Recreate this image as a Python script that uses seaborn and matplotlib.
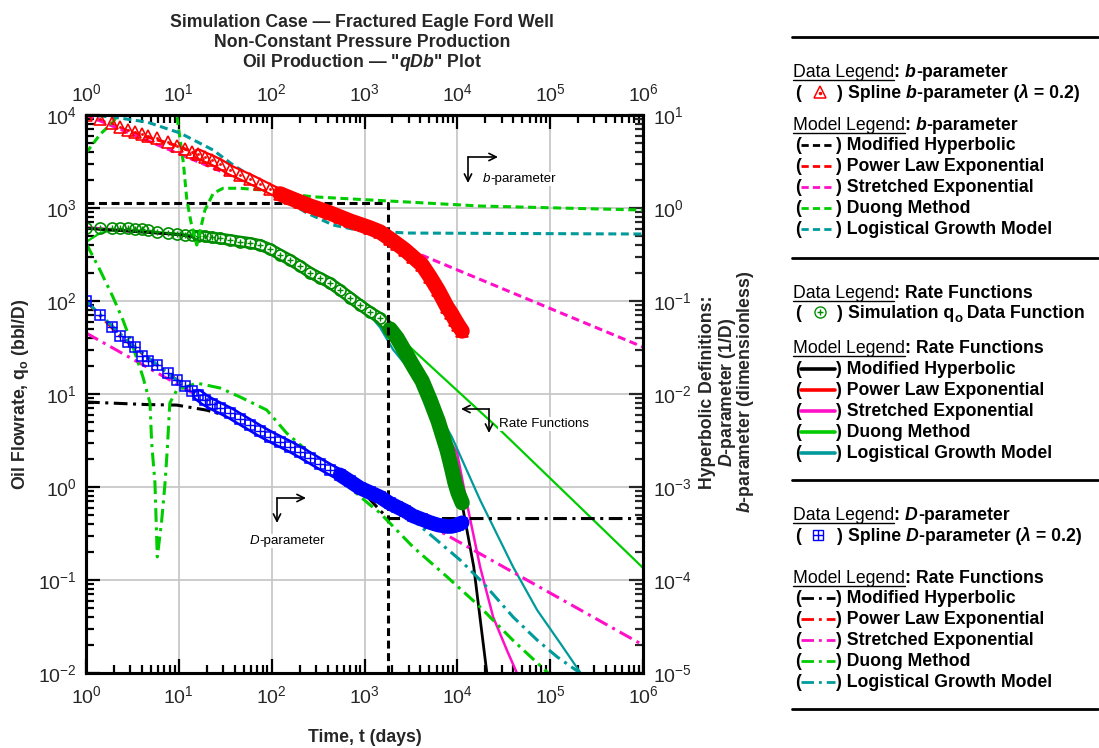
import numpy as np
import pandas as pd
import matplotlib
matplotlib.use("Agg")
import matplotlib.pyplot as plt
import matplotlib.patches as mpatches
import seaborn as sns
from matplotlib.font_manager import FontProperties
from matplotlib.lines import Line2D
from matplotlib.ticker import LogLocator, NullFormatter, NullLocator, FuncFormatter

W, H = 1099, 748

# ---------------- spline data (simulation) ----------------
t_data = [1, 1.42, 1.91, 2.32, 2.84, 3.37, 3.98, 4.69, 5.78, 7.71, 9.48, 11.7, 13.8, 16.2,
          19.1, 22.8, 27.8, 35.6, 45.6, 58.5, 75, 96.2, 123, 158, 202, 259, 333, 426, 546,
          700, 897, 1148, 1472, 1888, 2244, 2742, 3342, 4178, 5093, 6209, 7762, 8570, 9462,
          10210, 11270]
b_spline = [10.0, 8.95, 8.15, 7.48, 6.90, 6.52, 6.19, 5.98, 5.61, 5.15, 4.68, 4.28, 4.03, 3.81,
            3.53, 3.28, 2.97, 2.56, 2.29, 2.05, 1.81, 1.60, 1.42, 1.28, 1.16, 1.05, 0.964, 0.883,
            0.800, 0.724, 0.665, 0.610, 0.552, 0.465, 0.410, 0.353, 0.297, 0.244, 0.181, 0.131,
            0.0861, 0.0743, 0.0625, 0.0552, 0.0475]
q_data = [605, 605, 614, 614, 608, 600, 590, 578, 556, 535, 525, 518, 511, 504,
          494, 482, 470, 453, 436, 421, 400, 362, 316, 276, 238, 202, 177, 156, 131,
          109, 90.6, 76.2, 65.6, 50.0, 40.0, 28.3, 20.0, 13.8, 8.61, 5.13, 2.50, 1.68, 1.10,
          0.861, 0.678]
D_spline = [0.100, 0.0707, 0.0525, 0.0420, 0.0362, 0.0320, 0.0256, 0.0226, 0.0205, 0.0168,
            0.0142, 0.0122, 0.0108, 0.00975, 0.00861, 0.00780, 0.00706, 0.00625, 0.00538,
            0.00465, 0.00400, 0.00349, 0.00308, 0.00272, 0.00238, 0.00205, 0.00177, 0.00154,
            0.00135, 0.00115, 0.000975, 0.000873, 0.000780, 0.000665, 0.000610, 0.000552,
            0.000488, 0.000448, 0.000415, 0.000390, 0.000376, 0.000376, 0.000385, 0.000395,
            0.000413]

# ---------------- b-parameter models ----------------
t_mh_b = [1, 1796, 1796, 1e6]
mh_b = [1.13, 1.13, 1e-8, 1e-8]
t_ple_b = [1, 3, 10, 30, 100, 300, 1000, 2000, 4000, 7000, 11270]
ple_b = [10, 6.6, 4.6, 2.9, 1.65, 1.0, 0.63, 0.46, 0.25, 0.11, 0.048]
t_se_b = [1, 3342, 1e6]
se_b = [10.0, 0.34, 0.032]
t_dg_b = [1, 1.42, 1.91, 2.3, 3, 5, 7, 8.5, 9.5, 11.2, 12.2, 13.8, 15.6, 19.1, 23.5, 30,
          45.6, 81, 133, 279, 1148, 17700, 1e6]
dg_b = [3.9, 6.2, 8.2, 10.5, 18, 40, 40, 18, 10, 3.03, 1.22, 0.63, 0.40, 0.95, 1.44, 1.63,
        1.63, 1.56, 1.44, 1.32, 1.22, 1.05, 0.95]
t_lgm_b = [1, 1.95, 4.54, 10.3, 23.4, 38.4, 69.7, 123, 240, 459, 831, 2880, 1e6]
lgm_b = [10.0, 9.5, 8.4, 6.4, 4.2, 2.9, 2.0, 1.31, 0.883, 0.656, 0.58, 0.538, 0.525]

# ---------------- rate models ----------------
t_mh_q = [1, 10, 100, 1000, 1796, 5000, 11180, 15000, 20800, 23000]
mh_q = [605, 518, 350, 85, 52, 8.8, 0.68, 0.14, 0.01, 0.004]
t_ple_q = [1, 10, 100, 1000, 3000, 6000, 11180]
ple_q = [605, 520, 360, 88, 23, 5.3, 0.68]
t_se_q = [1, 10, 100, 1000, 3342, 6000, 9950, 12650, 17600, 24300, 34100, 43800]
se_q = [620, 520, 360, 88, 20, 5.3, 2.32, 0.673, 0.138, 0.040, 0.0177, 0.010]
t_dg_q = [1, 1.42, 1.95, 5, 20, 100, 500, 1472, 3342, 28900, 1e6]
dg_q = [431, 538, 580, 560, 494, 350, 140, 65, 29.7, 4.1, 0.135]
t_lgm_q = [1, 10, 100, 500, 1000, 1472, 2033, 4316, 8730, 17600, 39900, 72400, 128000,
           210000, 260000]
lgm_q = [605, 520, 360, 140, 82, 52, 30, 12.0, 3.45, 0.724, 0.138, 0.0475, 0.021, 0.0102,
         0.0075]

# ---------------- D-parameter models ----------------
t_mh_d = [1, 4.5, 9.5, 20, 50, 100, 300, 1000, 1472, 1796, 1e6]
mh_d = [0.0082, 0.0077, 0.0076, 0.0067, 0.0052, 0.0038, 0.0019, 0.00085, 0.00056, 0.000458,
        0.000458]
t_ple_d = [1, 2.32, 5.78, 13.8, 35.6, 96.2, 259, 700, 1888, 5093, 11270]
ple_d = [0.1, 0.042, 0.0205, 0.0108, 0.00625, 0.00349, 0.00205, 0.00115, 0.000665, 0.000415,
         0.000413]
t_se_d = [1, 8360, 1e6]
se_d = [0.0453, 0.00029, 2.0e-5]
t_dg_d = [1, 1.415, 1.954, 2.5, 3.21, 4.11, 4.89, 5.1, 5.53, 5.86, 6.5, 7.1, 7.5, 8.0, 9.5,
          15.6, 27.8, 45.6, 88.5, 145, 400, 1150, 1473, 3342, 7766, 17600, 39500, 92000, 120000]
dg_d = [0.42, 0.215, 0.110, 0.0625, 0.032, 0.0152, 0.0080, 0.00297, 0.0011, 0.000177, 0.00041,
        0.0011, 0.0025, 0.0080, 0.011, 0.0131, 0.0116, 0.0093, 0.00673, 0.0038, 0.00158,
        0.00064, 0.000525, 0.000226, 0.000108, 5.13e-5, 2.26e-5, 1.03e-5, 7.5e-6]
t_lgm_d = [1, 3, 10, 30, 100, 300, 1000, 3000, 5483, 10715, 18960, 39900, 72400, 119000, 210000]
lgm_d = [0.1, 0.035, 0.0135, 0.0065, 0.0035, 0.0019, 0.00095, 0.00048, 0.00029, 0.000164,
         9.3e-5, 4.0e-5, 2.26e-5, 1.49e-5, 1.0e-5]

model_names = ["Modified Hyperbolic", "Power Law Exponential", "Stretched Exponential",
               "Duong Method", "Logistical Growth Model"]
x_ticks = [1, 10, 100, 1000, 10000, 100000, 1000000]

# ---------------- style ----------------
RED, MAG, GRN, DGRN, TEAL, BLUE = "#FF0000", "#FF10C8", "#00CC00", "#008C00", "#009A9A", "#0000FF"
model_colors = ["#000000", RED, MAG, GRN, TEAL]
DASH = (0, (2.6, 1.5))
DASHDOT = (0, (4.5, 1.8, 1.0, 1.8))
FAM = "Liberation Sans"

sns.set_theme(style="white")
plt.rcParams.update({
    "font.family": [FAM, "DejaVu Sans"],
    "mathtext.fontset": "custom",
    "mathtext.rm": f"{FAM}:bold",
    "mathtext.it": f"{FAM}:italic:bold",
    "mathtext.bf": f"{FAM}:bold",
    "mathtext.default": "rm",
    "axes.linewidth": 2.2,
})

fig = plt.figure(figsize=(W / 100, H / 100), dpi=100)
ax = fig.add_axes([86 / W, 1 - 673 / H, (643 - 86) / W, (673 - 115) / H])
ax.set_xscale("log")
ax.set_yscale("log")
axr = ax.twinx()
axr.set_yscale("log")


def draw(axis, x, y, **kw):
    sns.lineplot(x=x, y=y, ax=axis, estimator=None, sort=False, legend=False, **kw)


# ---- rate models (left axis) ----
draw(ax, t_ple_q, ple_q, color=RED, lw=1.6)
draw(ax, t_se_q, se_q, color=MAG, lw=1.8)
draw(ax, t_lgm_q, lgm_q, color=TEAL, lw=1.6)
draw(ax, t_dg_q, dg_q, color=GRN, lw=1.6)
draw(ax, t_mh_q, mh_q, color="black", lw=2.0)

# ---- rate data (circles) ----
td, qd = np.array(t_data), np.array(q_data)
draw(ax, td[13:34], qd[13:34], color=DGRN, lw=8.5)
draw(ax, td[13:34], qd[13:34], color="white", lw=5.0)
draw(ax, td[33:], qd[33:], color=DGRN, lw=11)
draw(ax, t_data, q_data, color=DGRN, linestyle="", marker="o", markersize=8,
     markerfacecolor="none", markeredgecolor=DGRN, markeredgewidth=1.2)
draw(ax, t_data, q_data, color=DGRN, linestyle="", marker="+", markersize=5,
     markeredgecolor=DGRN, markeredgewidth=1.0)

# ---- b models (right axis) ----
for (tx, vy), c in zip([(t_mh_b, mh_b), (t_ple_b, ple_b), (t_se_b, se_b), (t_dg_b, dg_b),
                        (t_lgm_b, lgm_b)], model_colors):
    draw(axr, tx, vy, color=c, lw=2.2, linestyle=DASH)
# ---- D models (right axis) ----
for (tx, vy), c in zip([(t_mh_d, mh_d), (t_ple_d, ple_d), (t_se_d, se_d), (t_dg_d, dg_d),
                        (t_lgm_d, lgm_d)], model_colors):
    draw(axr, tx, vy, color=c, lw=2.2, linestyle=DASHDOT)

# ---- b spline (triangles) ----
bd = np.array(b_spline)
draw(axr, td[13:23], bd[13:23], color=RED, lw=8)
draw(axr, td[13:23], bd[13:23], color="white", lw=4.8)
draw(axr, td[22:], bd[22:], color=RED, lw=11)
draw(axr, t_data, b_spline, color=RED, linestyle="", marker="^", markersize=8.5,
     markerfacecolor="none", markeredgecolor=RED, markeredgewidth=1.2)
draw(axr, t_data[:23], b_spline[:23], color=RED, linestyle="", marker="o", markersize=1.5,
     markerfacecolor=RED, markeredgecolor=RED, markeredgewidth=0.5)

# ---- D spline (squares) ----
dd = np.array(D_spline)
draw(axr, td[13:29], dd[13:29], color=BLUE, lw=9)
draw(axr, td[13:29], dd[13:29], color="white", lw=5.2)
draw(axr, td[28:], dd[28:], color=BLUE, lw=10.5)
draw(axr, t_data, D_spline, color=BLUE, linestyle="", marker="s", markersize=7.5,
     markerfacecolor="none", markeredgecolor=BLUE, markeredgewidth=1.1)
draw(axr, t_data, D_spline, color=BLUE, linestyle="", marker="+", markersize=7.5,
     markeredgecolor=BLUE, markeredgewidth=1.0)

# ---------------- axes formatting ----------------
ax.set_xlim(1, 1e6)
ax.set_ylim(1e-2, 1e4)
axr.set_ylim(1e-5, 1e1)
for a in (ax, axr):
    a.set_xlabel("")
    a.set_ylabel("")
    a.xaxis.label.set_visible(False)
    a.yaxis.label.set_visible(False)
    a.xaxis.offsetText.set_visible(False)
    a.yaxis.offsetText.set_visible(False)
fmt = FuncFormatter(lambda v, p: r"$\mathdefault{10^{%d}}$" % int(round(np.log10(v))))
for a in (ax, axr):
    a.yaxis.set_major_locator(LogLocator(base=10, numticks=20))
    a.yaxis.set_minor_locator(LogLocator(base=10, subs=np.arange(2, 10), numticks=100))
    a.yaxis.set_minor_formatter(NullFormatter())
    a.yaxis.set_major_formatter(fmt)
ax.set_xticks(x_ticks)
ax.xaxis.set_minor_locator(LogLocator(base=10, subs=np.arange(2, 10), numticks=100))
ax.xaxis.set_minor_formatter(NullFormatter())
ax.xaxis.set_major_formatter(fmt)

tsz = 14
ax.tick_params(axis="both", which="major", direction="in", length=10, width=1.6,
               labelsize=tsz, color="black")
ax.tick_params(axis="both", which="minor", direction="in", length=5.5, width=1.6,
               color="black")
ax.tick_params(axis="x", which="both", top=True, bottom=True, labeltop=False,
               labelbottom=True, pad=8.5)
ax.tick_params(axis="y", which="both", left=True, right=False, labelleft=True, pad=6.5)
axr.tick_params(axis="y", which="major", direction="in", length=10, width=1.6,
                labelsize=tsz, right=True, left=False, labelright=True, pad=7)
axr.tick_params(axis="y", which="minor", direction="in", length=5.5, width=1.6,
                right=True, left=False)

# top tick labels on a secondary axis so they get their own padding
sec = ax.secondary_xaxis("top")
sec.set_xticks(x_ticks)
sec.xaxis.set_major_formatter(fmt)
sec.xaxis.set_minor_locator(NullLocator())
sec.tick_params(axis="x", which="major", length=0, pad=7, labelsize=tsz)
sec.xaxis.offsetText.set_visible(False)
for s in sec.spines.values():
    s.set_visible(False)

ax.grid(True, which="major", color="#C4C4C4", lw=1.2)
ax.set_axisbelow(True)
for a in (ax, axr):
    for s in a.spines.values():
        s.set_linewidth(2.2)
        s.set_color("black")


def fx(x):
    return x / W


def fy(y):
    return 1 - y / H


# titles and axis labels
tb = dict(family=FAM, fontweight="bold", fontsize=12.7)
fig.text(fx(362), fy(27), "Simulation Case \u2014 Fractured Eagle Ford Well", ha="center",
         va="baseline", **tb)
fig.text(fx(362), fy(47), "Non-Constant Pressure Production", ha="center", va="baseline", **tb)
fig.text(fx(362), fy(67), 'Oil Production \u2014 "$\\mathit{qDb}$" Plot', ha="center",
         va="baseline", **tb)
fig.text(fx(364.5), fy(737), "Time, t (days)", ha="center", va="center", **tb)
fig.text(fx(21), fy(394), "Oil Flowrate, q$_{\\mathdefault{o}}$ (bbl/D)", ha="center",
         va="center", rotation=90, **tb)
fig.text(fx(707), fy(392), "Hyperbolic Definitions:", ha="center", va="center", rotation=90,
         **tb)
fig.text(fx(727), fy(392), "$\\mathit{D}$-parameter (1/D)", ha="center", va="center",
         rotation=90, **tb)
fig.text(fx(746), fy(392), "$\\mathit{b}$-parameter (dimensionless)", ha="center",
         va="center", rotation=90, **tb)

renderer = fig.canvas.get_renderer()


def adv(s, **kw):
    fp = FontProperties(family=kw.get("family", FAM), size=kw.get("fontsize", 12),
                        weight=kw.get("fontweight", "normal"),
                        style=kw.get("fontstyle", "normal"))
    w1 = renderer.get_text_width_height_descent("|" + s + "|", fp, ismath=False)[0]
    w2 = renderer.get_text_width_height_descent("||", fp, ismath=False)[0]
    return w1 - w2


def rich(x, yb, segs, base):
    cx = x
    for seg in segs:
        text = seg[0]
        kw = dict(base)
        if len(seg) > 1:
            kw.update(seg[1])
        ul = kw.pop("ul", False)
        dy = kw.pop("dy", 0)
        fig.text(fx(cx), fy(yb + dy), text, ha="left", va="baseline", **kw)
        a = adv(text, **kw)
        if ul:
            fig.add_artist(Line2D([fx(cx), fx(cx + a)], [fy(yb + 2.8)] * 2,
                                  transform=fig.transFigure, color="black", lw=1.0))
        cx += a
    return cx


# annotation arrows (corner arrows beside the three curve groups)
def corner_arrow(cx, cy, hx, vy):
    for ex, ey in ((hx, cy), (cx, vy)):
        fig.add_artist(mpatches.FancyArrowPatch(
            (fx(cx), fy(cy)), (fx(ex), fy(ey)), transform=fig.transFigure,
            arrowstyle="->", color="black", lw=1.2, shrinkA=0, shrinkB=0, mutation_scale=13))


corner_arrow(468, 157, 498, 183)
corner_arrow(489, 409, 461, 433)
corner_arrow(277, 498, 306, 523)
abase = dict(family=FAM, fontsize=9.6, color="black",
             bbox=dict(fc="white", ec="none", pad=0.5))
rich(483, 182, [("b", {"fontstyle": "italic"}), ("-parameter",)], abase)
rich(499, 427, [("Rate Functions",)], abase)
rich(250, 544, [("D", {"fontstyle": "italic"}), ("-parameter",)], abase)

# ---------------- legend panel ----------------
lbase = dict(family=FAM, fontsize=12.7, fontweight="bold", color="black")
REG = {"fontweight": "normal", "ul": True}
BI = {"fontstyle": "italic"}
OFF = 6  # baseline offset from visual centre

for y in (37, 258, 480, 709):
    fig.add_artist(Line2D([fx(792), fx(1098)], [fy(y)] * 2, transform=fig.transFigure,
                          color="black", lw=2.0))


def header(y, kind, segs):
    rich(793, y + OFF, [(kind, REG), (": ",)] + segs, lbase)


def data_entry(y, marker_fn, segs):
    rich(795, y + OFF, [("(",)], lbase)
    marker_fn(820, y)
    rich(837, y + OFF, [(")",)], lbase)
    rich(848, y + OFF, segs, lbase)


def model_entries(y0, style, lw):
    for i, (nm, c) in enumerate(zip(model_names, model_colors)):
        y = y0 + i * 21
        rich(795, y + OFF, [("(",)], lbase)
        fig.add_artist(Line2D([fx(801), fx(835)], [fy(y + 1)] * 2, transform=fig.transFigure,
                              color=c, lw=lw, linestyle=style))
        rich(836, y + OFF, [(") " + nm,)], lbase)


def tri(x, y):
    fig.add_artist(Line2D([fx(x)], [fy(y)], transform=fig.transFigure, marker="^", ms=8.5,
                          mfc="white", mec=RED, mew=1.1, ls=""))
    fig.add_artist(Line2D([fx(x)], [fy(y + 1)], transform=fig.transFigure, marker="o",
                          ms=1.5, mfc=RED, mec=RED, ls=""))


def circ(x, y):
    fig.add_artist(Line2D([fx(x)], [fy(y)], transform=fig.transFigure, marker="o", ms=8,
                          mfc="white", mec=DGRN, mew=1.0, ls=""))
    fig.add_artist(Line2D([fx(x)], [fy(y)], transform=fig.transFigure, marker="+", ms=5,
                          mec=DGRN, mew=1.0, ls=""))


def sq(x, y):
    fig.add_artist(Line2D([fx(x - 2)], [fy(y)], transform=fig.transFigure, marker="s", ms=7,
                          mfc="white", mec=BLUE, mew=1.0, ls=""))
    fig.add_artist(Line2D([fx(x - 2)], [fy(y)], transform=fig.transFigure, marker="+", ms=7,
                          mec=BLUE, mew=1.0, ls=""))


header(71, "Data Legend", [("b", BI), ("-parameter",)])
data_entry(92, tri, [("Spline ",), ("b", BI), ("-parameter (",), ("\u03bb", BI), (" = 0.2)",)])
header(124, "Model Legend", [("b", BI), ("-parameter",)])
model_entries(144, DASH, 2.0)

header(292, "Data Legend", [("Rate Functions",)])
data_entry(312, circ, [("Simulation q",), ("o", {"fontsize": 9.5, "dy": 4}),
                       (" Data Function",)])
header(347, "Model Legend", [("Rate Functions",)])
model_entries(368, "-", 2.6)

header(514, "Data Legend", [("D", BI), ("-parameter",)])
data_entry(535, sq, [("Spline ",), ("D", BI), ("-parameter (",), ("\u03bb", BI), (" = 0.2)",)])
header(577, "Model Legend", [("Rate Functions",)])
model_entries(597, DASHDOT, 2.0)

fig.savefig("out.png", dpi=100)
